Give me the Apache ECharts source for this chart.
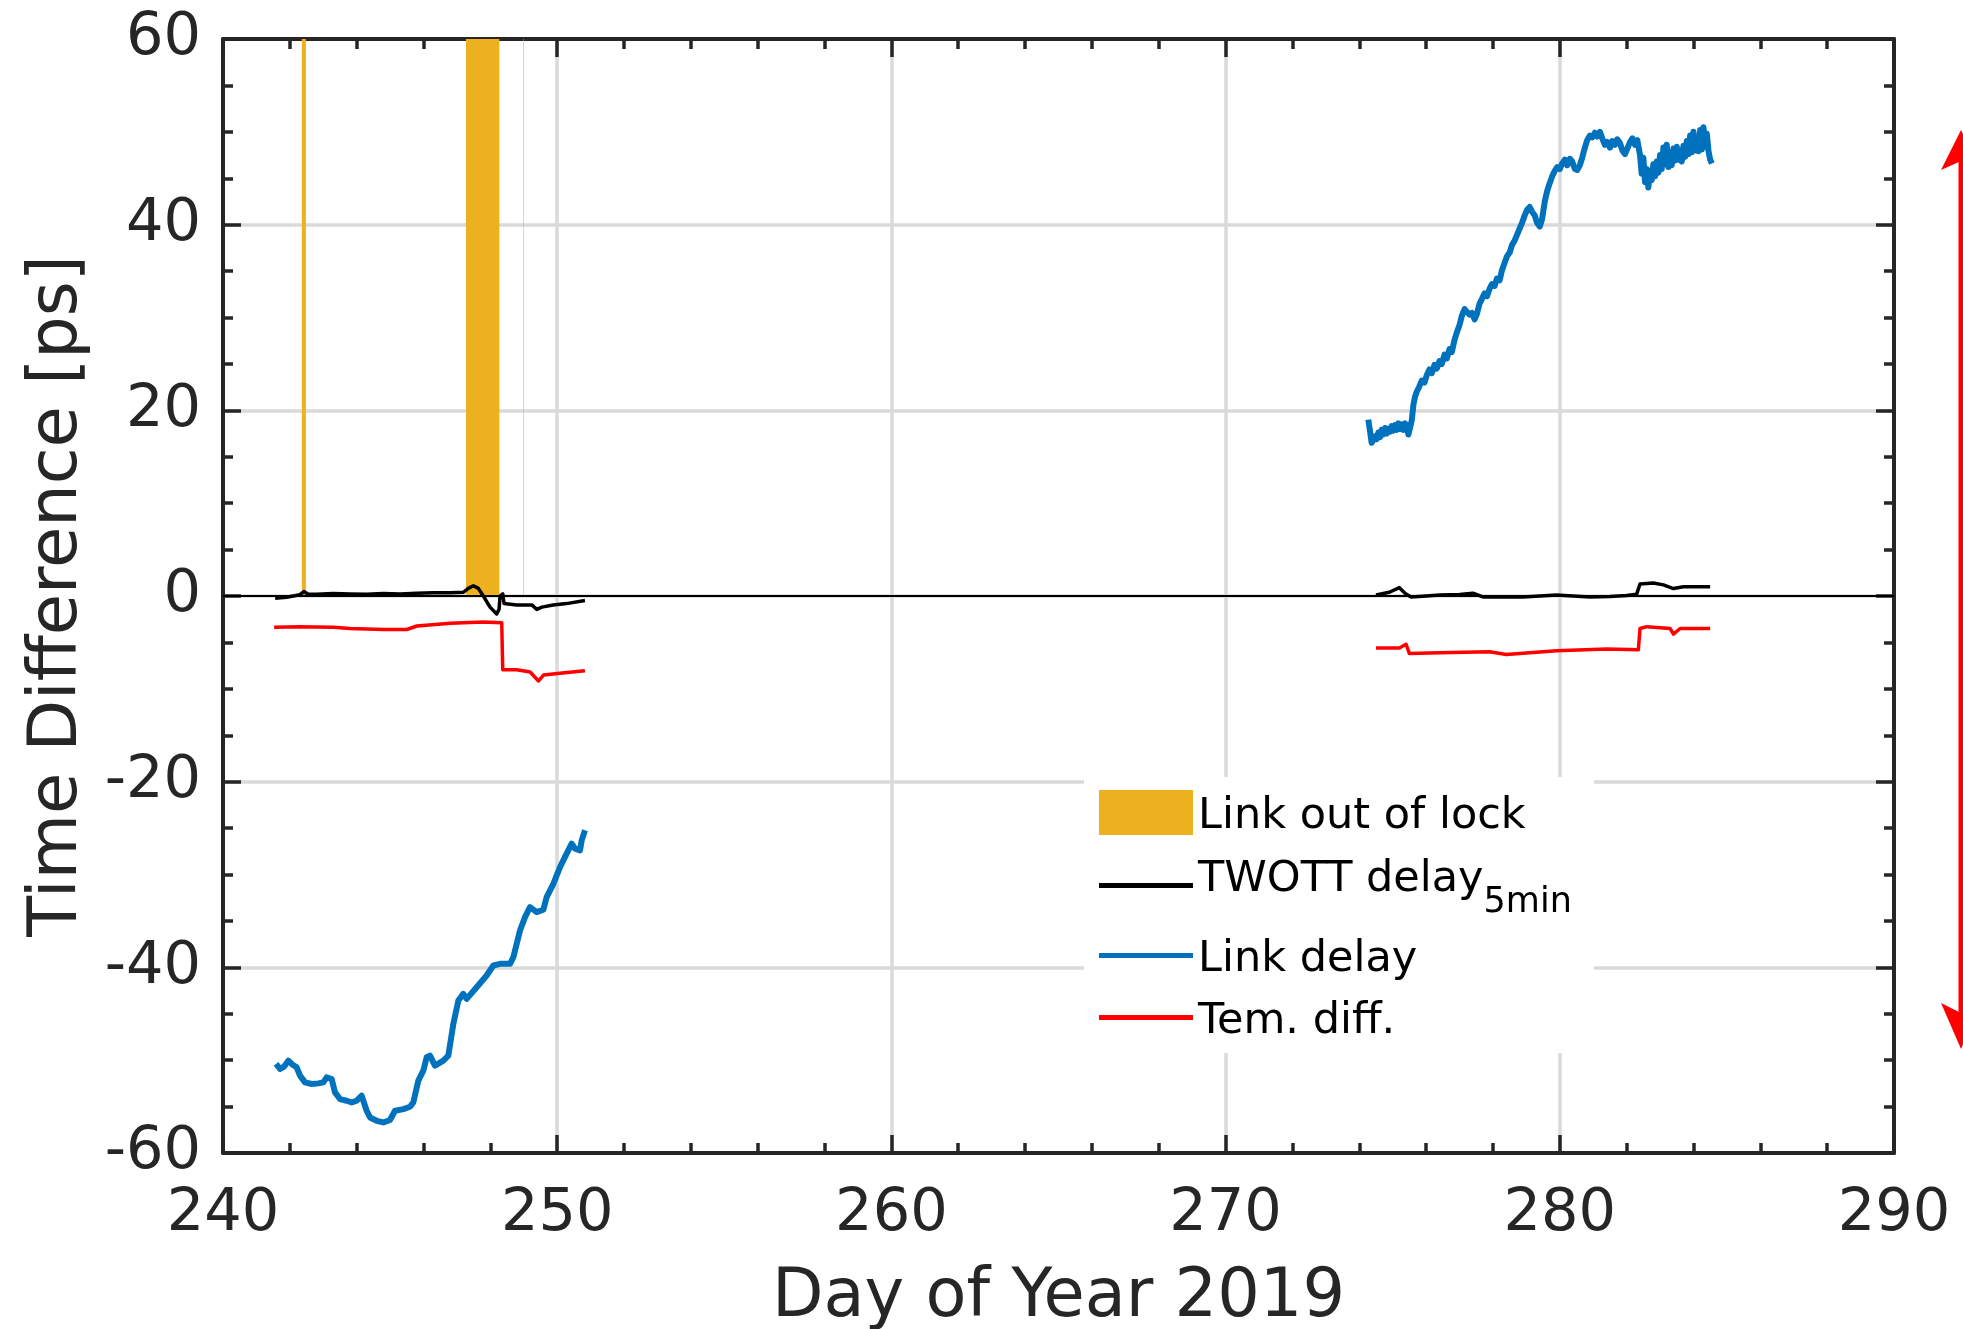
<!DOCTYPE html>
<html>
<head>
<meta charset="utf-8">
<script src="https://cdn.jsdelivr.net/npm/echarts@6/dist/echarts.min.js"></script>
<style>
html,body{margin:0;padding:0;background:#ffffff;}
#c{width:1963px;height:1329px;}
</style>
</head>
<body>
<div id="c"></div>
<script>
// ---- axes ----
const X_MIN = 240, X_MAX = 290, X_STEP = 10;
const Y_MIN = -60, Y_MAX = 60, Y_STEP = 20;
const X_NAME = 'Day of Year 2019';
const Y_NAME = 'Time Difference [ps]';

// ---- series names ----
const NAME_LOCK = 'Link out of lock';
const NAME_TWOTT = 'TWOTT delay';
const NAME_LINK = 'Link delay';
const NAME_TEM = 'Tem. diff.';

// ---- link out of lock intervals (day of year), shaded from 0 ps up to the top ----
const lockStart = [242.36, 247.27, 248.99];
const lockEnd   = [242.48, 248.27, 249.006];
const lockFloor = [0, 0, 0];

// ---- TWOTT delay (5 min) ----
const twottDays1 = [241.56,241.9,242.3,242.42,242.55,242.8,243.3,243.8,244.3,244.8,245.3,245.8,246.29,246.8,247.19,247.34,247.49,247.64,247.79,247.99,248.19,248.26,248.29,248.37,248.41,248.79,249.24,249.39,249.54,249.88,250.28,250.83];
const twottVals1 = [-0.24,-0.14,0.14,0.48,0.19,0.2,0.28,0.22,0.18,0.26,0.22,0.3,0.34,0.36,0.4,0.82,1.1,0.82,0,-1.2,-1.93,-1.44,0,0.24,-0.82,-0.96,-0.96,-1.44,-1.2,-0.96,-0.82,-0.48];
const twottDays2 = [274.5,274.9,275.2,275.4,275.55,276.0,276.4,277.0,277.4,277.7,278.3,278.9,279.4,279.9,280.4,280.9,281.5,282.0,282.3,282.4,282.8,283.1,283.4,283.7,284.1,284.5];
const twottVals2 = [0.1,0.4,0.9,0.2,-0.1,0.0,0.1,0.15,0.3,-0.1,-0.1,-0.1,0.0,0.1,0.0,-0.1,-0.05,0.05,0.2,1.3,1.4,1.2,0.8,1.0,1.0,1.0];

// ---- Link delay ----
const linkDays1 = [241.586,241.706,241.825,241.955,242.085,242.204,242.304,242.454,242.653,242.853,243.002,243.102,243.252,243.351,243.501,243.7,243.85,244.0,244.149,244.299,244.399,244.598,244.798,244.997,245.147,245.396,245.596,245.695,245.845,245.994,246.094,246.194,246.343,246.593,246.742,246.892,247.042,247.191,247.291,247.59,247.889,248.089,248.288,248.588,248.688,248.887,249.037,249.186,249.386,249.585,249.685,249.885,250.084,250.283,250.433,250.533,250.683,250.733,250.832];
const linkVals1 = [-50.41,-50.95,-50.7,-50.05,-50.49,-50.77,-51.67,-52.39,-52.57,-52.5,-52.39,-51.85,-52.03,-53.47,-54.19,-54.37,-54.55,-54.37,-53.83,-55.45,-56.17,-56.53,-56.71,-56.45,-55.45,-55.27,-55.02,-54.55,-52.21,-51.13,-49.69,-49.51,-50.59,-50.05,-49.51,-46.1,-43.58,-42.86,-43.4,-42.14,-40.88,-39.8,-39.62,-39.62,-38.91,-36.03,-34.59,-33.51,-34.05,-33.8,-32.43,-31.0,-29.2,-27.76,-26.68,-27.22,-27.4,-26.32,-25.24];
const linkDays2 = [274.27,274.32,274.37,274.42,274.47,274.52,274.57,274.62,274.67,274.72,274.77,274.82,274.87,274.92,274.97,275.02,275.07,275.12,275.17,275.22,275.27,275.32,275.37,275.42,275.47,275.52,275.57,275.62,275.67,275.72,275.8,275.87,275.95,276.02,276.1,276.17,276.25,276.32,276.4,276.47,276.55,276.62,276.7,276.77,276.85,276.92,277.0,277.07,277.15,277.22,277.3,277.37,277.45,277.52,277.6,277.67,277.75,277.82,277.9,277.97,278.05,278.12,278.2,278.27,278.35,278.42,278.5,278.57,278.65,278.72,278.8,278.87,278.95,279.02,279.1,279.17,279.25,279.32,279.4,279.47,279.55,279.62,279.7,279.77,279.85,279.92,280.0,280.07,280.15,280.22,280.3,280.37,280.45,280.52,280.6,280.67,280.75,280.82,280.9,280.97,281.05,281.12,281.2,281.27,281.35,281.42,281.5,281.57,281.65,281.72,281.8,281.87,281.95,282.02,282.1,282.17,282.25,282.32,282.4,282.45,282.5,282.55,282.6,282.65,282.7,282.75,282.8,282.85,282.9,282.95,283.0,283.05,283.1,283.15,283.2,283.25,283.3,283.35,283.4,283.45,283.5,283.55,283.6,283.65,283.7,283.75,283.8,283.85,283.9,283.95,284.0,284.05,284.1,284.15,284.2,284.25,284.3,284.35,284.4,284.45,284.5,284.55];
const linkVals2 = [19.0,17.8,16.5,16.4,17.2,16.9,17.6,17.1,17.9,17.4,18.1,17.5,18.0,17.7,18.3,17.8,18.4,17.9,18.6,18.0,18.5,17.9,18.6,18.1,17.4,17.6,18.9,20.6,21.5,22.0,22.6,23.2,23.0,23.8,24.4,24.0,24.9,24.5,25.3,25.0,26.0,25.6,26.6,26.3,27.6,28.4,29.2,30.2,30.9,30.6,30.3,30.5,29.8,30.4,31.5,32.0,32.6,32.3,33.1,33.6,33.4,34.2,34.0,35.1,35.9,36.6,37.0,37.8,38.3,38.9,39.6,40.2,41.0,41.6,41.9,41.4,41.0,40.2,39.8,40.6,42.5,43.6,44.5,45.2,45.8,46.2,46.0,46.6,47.0,46.4,47.1,46.8,46.0,45.9,46.4,47.2,48.3,49.1,49.6,49.4,49.9,49.5,50.0,49.3,48.6,48.9,48.3,49.0,48.6,49.2,48.8,48.0,47.6,48.2,48.9,49.3,48.6,49.1,47.5,45.5,47.2,44.6,46.0,44.0,45.8,44.8,46.5,45.2,46.8,45.6,47.5,46.0,48.3,46.5,48.6,46.2,47.8,46.4,48.2,46.9,48.4,47.0,48.0,46.8,48.5,47.3,49.0,47.6,49.6,47.8,50.0,48.0,49.2,47.9,50.2,48.1,50.5,48.4,49.8,47.9,47.0,46.6];

// ---- Temperature difference ----
const temDays1 = [241.53,242.3,243.3,243.8,244.8,245.5,245.8,246.8,247.79,248.34,248.37,248.79,249.19,249.44,249.59,250.08,250.83];
const temVals1 = [-3.37,-3.32,-3.37,-3.51,-3.61,-3.61,-3.23,-2.94,-2.79,-2.89,-7.94,-7.94,-8.18,-9.15,-8.52,-8.33,-8.04];
const temDays2 = [274.5,275.2,275.4,275.5,276.4,277.9,278.4,279.9,281.4,282.35,282.4,282.6,283.3,283.4,283.6,284.5];
const temVals2 = [-5.6,-5.6,-5.2,-6.2,-6.1,-6.0,-6.3,-5.9,-5.7,-5.8,-3.5,-3.3,-3.5,-4.1,-3.5,-3.5];

// ---- annotation arrow range (ps) ----
const arrowTopVal = 50.2, arrowBottomVal = -48.8;

// ---- styles ----
const FONT = 'DejaVu Sans';
const AX = '#262626';
const GRIDC = '#dadada';
const C_LOCK = '#EDB120', C_TWOTT = '#000000', C_LINK = '#0072BD', C_TEM = '#FF0000';

function zip(a, b) { return a.map((v, i) => [v, b[i]]); }

const chart = echarts.init(document.getElementById('c'), null, {renderer: 'canvas'});

function xAxisDef(pos, labels) {
  return {
    type: 'value', position: pos, min: X_MIN, max: X_MAX, interval: X_STEP,
    name: labels ? X_NAME : '', nameLocation: 'middle', nameGap: 112,
    nameTextStyle: {fontFamily: FONT, fontSize: 67, color: AX},
    axisLine: {show: true, onZero: false, lineStyle: {color: AX, width: 4}},
    axisTick: {show: true, inside: true, length: 18, lineStyle: {color: AX, width: 3.5}},
    minorTick: {show: true, splitNumber: 5, length: 10, lineStyle: {color: AX, width: 3.5}},
    axisLabel: {show: labels, fontFamily: FONT, fontSize: 59, color: AX, margin: 32},
    splitLine: {show: labels, lineStyle: {color: GRIDC, width: 3.5}}
  };
}
function yAxisDef(pos, labels) {
  return {
    type: 'value', position: pos, min: Y_MIN, max: Y_MAX, interval: Y_STEP,
    name: labels ? Y_NAME : '', nameLocation: 'middle', nameGap: 131, nameRotate: 90,
    nameTextStyle: {fontFamily: FONT, fontSize: 67, color: AX},
    axisLine: {show: true, onZero: false, lineStyle: {color: AX, width: 4}},
    axisTick: {show: true, inside: true, length: 18, lineStyle: {color: AX, width: 3.5}},
    minorTick: {show: true, splitNumber: 4, length: 10, lineStyle: {color: AX, width: 3.5}},
    axisLabel: {show: labels, fontFamily: FONT, fontSize: 59, color: AX, margin: 22},
    splitLine: {show: labels, lineStyle: {color: GRIDC, width: 3.5}}
  };
}

function lineSeries(name, data, color, width, extra) {
  return Object.assign({
    type: 'line', name: name, data: data, showSymbol: false, symbol: 'none',
    lineStyle: {color: color, width: width, join: 'round'}, itemStyle: {color: color},
    xAxisIndex: 0, yAxisIndex: 0, z: 3, silent: true, animation: false
  }, extra || {});
}

// legend text: rich text so the label sits where the reference puts it
const richMain = {fontFamily: FONT, fontSize: 43, color: '#000', lineHeight: 43, verticalAlign: 'top', padding: [4, 0, 0, 0]};
const legendBase = {
  orient: 'vertical', left: 1099, padding: 0, itemWidth: 94, selectedMode: false,
  formatter: function (n) { return '{a|' + n + '}'; },
  textStyle: {fontFamily: FONT, color: '#000', rich: {a: richMain}}
};

const option = {
  animation: false,
  backgroundColor: '#ffffff',
  grid: {left: 223, right: 69, top: 39, bottom: 176, containLabel: false, outerBoundsMode: 'none'},
  xAxis: [xAxisDef('bottom', true), xAxisDef('top', false)],
  yAxis: [yAxisDef('left', true), yAxisDef('right', false)],
  legend: [
    Object.assign({}, legendBase, {top: 790, itemHeight: 45, data: [{name: NAME_LOCK, icon: 'rect'}]}),
    Object.assign({}, legendBase, {top: 850.5, itemHeight: 5, data: [{name: NAME_TWOTT, icon: 'rect'}],
      formatter: function (n) { return '{a|' + n + '}{b|5min}'; },
      textStyle: {fontFamily: FONT, color: '#000',
        rich: {
          a: {fontFamily: FONT, fontSize: 43, color: '#000', lineHeight: 43, verticalAlign: 'top', padding: [8, 0, 0, 0]},
          b: {fontFamily: FONT, fontSize: 35, color: '#000', lineHeight: 70, verticalAlign: 'bottom'}
        }}}),
    Object.assign({}, legendBase, {top: 934, itemHeight: 5, data: [{name: NAME_LINK, icon: 'rect'}]}),
    Object.assign({}, legendBase, {top: 996, itemHeight: 5, data: [{name: NAME_TEM, icon: 'rect'}]})
  ],
  graphic: [
    {type: 'rect', id: 'legendBg', z: 1, silent: true,
     shape: {x: 1084, y: 777, width: 510, height: 276}, style: {fill: '#ffffff'}}
  ],
  series: [
    {
      type: 'custom', name: NAME_LOCK, xAxisIndex: 0, yAxisIndex: 0, z: 2, silent: true,
      itemStyle: {color: C_LOCK},
      encode: {x: [0, 1], y: 2},
      data: lockStart.map((s, i) => [s, lockEnd[i], lockFloor[i]]),
      clip: true,
      renderItem: function (params, api) {
        const p0 = api.coord([api.value(0), Y_MAX]);
        const p1 = api.coord([api.value(1), api.value(2)]);
        return {type: 'rect', shape: {x: p0[0], y: p0[1], width: Math.max(p1[0] - p0[0], 0.5), height: p1[1] - p0[1]},
                style: {fill: C_LOCK}};
      }
    },
    lineSeries(NAME_TWOTT, zip(twottDays1, twottVals1), C_TWOTT, 3.5, {
      markLine: {silent: true, symbol: 'none', label: {show: false}, animation: false,
                 lineStyle: {color: '#000', width: 1.8, type: 'solid'}, data: [{yAxis: 0}]}
    }),
    lineSeries(NAME_TWOTT, zip(twottDays2, twottVals2), C_TWOTT, 3.5),
    lineSeries(NAME_LINK, zip(linkDays1, linkVals1), C_LINK, 6),
    lineSeries(NAME_LINK, zip(linkDays2, linkVals2), C_LINK, 6),
    lineSeries(NAME_TEM, zip(temDays1, temVals1), C_TEM, 3.5),
    lineSeries(NAME_TEM, zip(temDays2, temVals2), C_TEM, 3.5)
  ]
};

chart.setOption(option);

// annotation arrow at the right edge, anchored to the y scale
const ax = chart.getWidth() - 2;
const yT = chart.convertToPixel({yAxisIndex: 0}, arrowTopVal);
const yB = chart.convertToPixel({yAxisIndex: 0}, arrowBottomVal);
chart.setOption({
  graphic: [
    {type: 'rect', id: 'legendBg', z: 1, silent: true,
     shape: {x: 1084, y: 777, width: 510, height: 276}, style: {fill: '#ffffff'}},
    {type: 'line', id: 'arrowShaft', z: 10, silent: true,
     shape: {x1: ax, y1: yT + 25, x2: ax, y2: yB - 25}, style: {stroke: '#ff0000', lineWidth: 5}},
    {type: 'polygon', id: 'arrowTop', z: 10, silent: true,
     shape: {points: [[ax, yT], [ax - 20, yT + 40], [ax, yT + 31], [ax + 20, yT + 40]]}, style: {fill: '#ff0000'}},
    {type: 'polygon', id: 'arrowBot', z: 10, silent: true,
     shape: {points: [[ax, yB], [ax - 20, yB - 46], [ax, yB - 36], [ax + 20, yB - 46]]}, style: {fill: '#ff0000'}}
  ]
});
</script>
</body>
</html>
